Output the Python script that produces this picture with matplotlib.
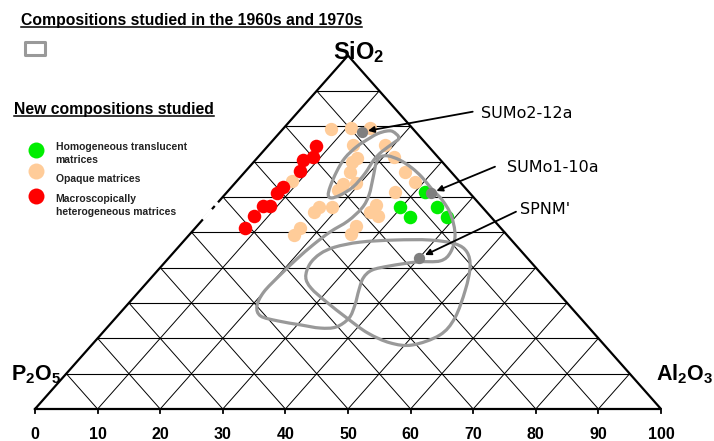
import numpy as np
import matplotlib
matplotlib.use('Agg')
import matplotlib.pyplot as plt
from matplotlib.path import Path
from matplotlib.patches import PathPatch, Rectangle
from matplotlib.lines import Line2D

plt.rcParams['mathtext.fontset'] = 'custom'
plt.rcParams['mathtext.rm'] = 'Liberation Sans:bold'
plt.rcParams['mathtext.default'] = 'rm'

# compositions (SiO2 %, Al2O3 %), P2O5 is the rest
red_sio2 = [74.3, 71.3, 70.3, 67.2, 62.9, 61.1, 57.3, 57.4, 54.5, 51.3]
red_al2o3 = [7.8, 8.8, 7.7, 8.8, 8.2, 8.1, 8.9, 7.8, 7.8, 7.9]

opaque_sio2 = [79.3, 79.4, 79.6, 74.7, 74.7, 71.1, 71.4, 69.9, 67.1, 67.1, 64.3, 63.6, 62.0,
               63.9, 61.5, 64.6, 57.2, 55.8, 57.2, 57.6, 55.6, 54.6, 51.1, 49.2, 51.8, 49.5]
opaque_al2o3 = [7.7, 10.7, 13.7, 13.5, 18.6, 15.9, 21.6, 15.7, 16.8, 25.6, 28.6, 17.4, 17.4,
                19.3, 26.8, 8.7, 16.8, 16.6, 18.8, 25.6, 25.7, 27.5, 16.8, 16.7, 25.4, 25.7]

green_sio2 = [61.4, 57.2, 54.4, 57.1, 54.3]
green_al2o3 = [31.6, 35.6, 38.6, 29.8, 32.8]

named = ['SUMo2-12a', 'SUMo1-10a', "SPNM'"]
named_sio2 = [78.4, 61.0, 42.8]
named_al2o3 = [13.0, 32.7, 40.0]

# outlines of the 1960s/1970s domains (SiO2, Al2O3)
zone1_sio2 = [76.7, 78.5, 78.6, 77.9, 76.7, 74.3, 71.0, 67.2, 62.9, 60.5, 59.7, 60.5, 62.8,
              66.6, 70.4, 72.8, 75.1]
zone1_al2o3 = [19.8, 17.9, 16.8, 15.8, 15.2, 14.3, 14.0, 14.6, 15.7, 16.6, 17.5, 18.5, 19.4,
               19.4, 18.9, 19.0, 19.6]

zone2_sio2 = [71.3, 71.6, 70.4, 68.2, 65.6, 62.2, 59.1, 54.9, 49.2, 44.4, 41.9, 41.6, 40.5,
              39.3, 37.1, 33.7, 29.4, 25.7, 23.2, 22.9, 23.8, 24.9, 26.3, 29.1, 33.1, 37.9,
              42.4, 46.4, 50.1, 53.2, 56.9, 60.5, 65.4, 69.6]
zone2_al2o3 = [19.5, 20.6, 23.1, 26.1, 29.0, 32.3, 35.5, 39.0, 42.5, 44.2, 43.8, 40.2, 36.5,
               34.2, 33.9, 34.9, 36.4, 37.3, 36.5, 34.1, 30.5, 26.4, 22.9, 20.9, 20.0, 20.2,
               20.6, 21.2, 22.1, 23.4, 23.8, 23.1, 21.3, 19.7]

zone3_sio2 = [37.3, 41.0, 43.9, 45.8, 47.2, 47.8, 47.8, 46.7, 44.4, 40.2, 33.7, 25.7, 20.9,
              18.1, 18.7, 21.5, 25.7, 30.3, 34.2]
zone3_al2o3 = [24.6, 23.4, 23.6, 25.0, 28.3, 33.6, 39.2, 43.8, 46.8, 49.4, 51.9, 54.2, 54.2,
               51.2, 47.4, 42.4, 37.0, 31.4, 27.0]

axis_ticks = list(range(0, 101, 10))


def to_xy(si, al):
    si = np.asarray(si, float)
    al = np.asarray(al, float)
    return al + si / 2, si


def smooth_closed(x, y):
    P = np.column_stack([x, y])
    n = len(P)
    verts = [P[0]]
    codes = [Path.MOVETO]
    for i in range(n):
        p0, p1, p2, p3 = P[i - 1], P[i], P[(i + 1) % n], P[(i + 2) % n]
        verts += [p1 + (p2 - p0) / 6, p2 - (p3 - p1) / 6, p2]
        codes += [Path.CURVE4] * 3
    return Path(verts, codes)


W, H = 714, 441
fig = plt.figure(figsize=(W / 100, H / 100), dpi=100)
ax = fig.add_axes([0, 0, 1, 1])
sx, sy = 6.26, 3.535
ax.set_xlim(-35 / sx, (W - 35) / sx)
ax.set_ylim(-(H - 409) / sy, 409 / sy)
ax.axis('off')


def pix(px, py):
    return (px - 35) / sx, (409 - py) / sy


# grid
for k in range(10, 100, 10):
    ax.plot([k / 2, 100 - k / 2], [k, k], color='black', lw=0.8, zorder=1)
    ax.plot([k, k + (100 - k) / 2], [0, 100 - k], color='black', lw=0.7, zorder=1)
    ax.plot([100 - k, (100 - k) / 2], [0, 100 - k], color='black', lw=0.7, zorder=1)
ax.plot([0, 100, 50, 0], [0, 0, 100, 0], color='black', lw=1.6, zorder=2,
        solid_joinstyle='miter')
for v in axis_ticks:
    ax.plot([v, v], [0, -1.2], color='black', lw=1.3, zorder=2)
    ax.text(v, -7.1, str(v), ha='center', va='center', fontsize=11.5,
            fontweight='bold', family='Liberation Sans')

# little breaks in the left edge
ax.plot([27.0, 28.1], [54.0, 56.15], color='white', lw=2.5, zorder=2.5)
ax.plot([28.9, 29.05], [57.8, 58.1], color='white', lw=2.5, zorder=2.5)

# corner labels
ax.text(*pix(333, 59), r'$\mathrm{SiO_2}$', fontsize=17, ha='left', va='baseline')
ax.text(*pix(11, 380), r'$\mathrm{P_2O_5}$', fontsize=15.5, ha='left', va='baseline')
ax.text(*pix(656, 380), r'$\mathrm{Al_2O_3}$', fontsize=15.5, ha='left', va='baseline')

# data
x, y = to_xy(opaque_sio2, opaque_al2o3)
ax.scatter(x, y, s=92, color='#FFCC99', lw=0, zorder=3)
x, y = to_xy(red_sio2, red_al2o3)
ax.scatter(x, y, s=95, color='#FF0000', lw=0, zorder=3)
x, y = to_xy(green_sio2, green_al2o3)
ax.scatter(x, y, s=95, color='#00EE00', lw=0, zorder=3)

for zs, za in [(zone1_sio2, zone1_al2o3), (zone2_sio2, zone2_al2o3), (zone3_sio2, zone3_al2o3)]:
    x, y = to_xy(zs, za)
    ax.add_patch(PathPatch(smooth_closed(x, y), facecolor='none', edgecolor='#999999',
                           lw=2.3, zorder=4))

nx, ny = to_xy(named_sio2, named_al2o3)
ax.scatter(nx, ny, s=66, color='#7F7F7F', lw=0, zorder=5)

arrow_from = [(472.7, 111.7), (495, 166.7), (516, 211.7)]
label_at = [(480.7, 113.3), (506.7, 167.3), (520, 209.3)]
for i, name in enumerate(named):
    ax.annotate('', xy=(nx[i], ny[i]), xytext=pix(*arrow_from[i]),
                arrowprops=dict(arrowstyle='-|>', color='black', lw=1.3,
                                mutation_scale=9, shrinkA=0, shrinkB=4.5), zorder=6)
    ax.text(*pix(*label_at[i]), name, ha='left', va='center', fontsize=11.5,
            family='DejaVu Sans')

# legend area
def fx(px):
    return px / W


def fy(py):
    return 1 - py / H


t1 = fig.text(fx(21), fy(25), 'Compositions studied in the 1960s and 1970s', fontsize=11.3,
              fontweight='bold', family='Liberation Sans', va='baseline')
t2 = fig.text(fx(14), fy(114), 'New compositions studied', fontsize=11.3,
              fontweight='bold', family='Liberation Sans', va='baseline')
fig.patches.append(Rectangle((fx(25), fy(55)), fx(20), 13 / H, transform=fig.transFigure,
                             facecolor='white', edgecolor='#999999', lw=2.2,
                             joinstyle='round', figure=fig))

leg_colors = ['#00EE00', '#FFCC99', '#FF0000']
leg_labels = ['Homogeneous translucent\nmatrices', 'Opaque matrices',
              'Macroscopically\nheterogeneous matrices']
leg_dot_y = [150, 171, 196.5]
leg_text_y = [153.5, 179.3, 205.7]
for c, lab, dy, ty in zip(leg_colors, leg_labels, leg_dot_y, leg_text_y):
    fig.add_artist(Line2D([fx(36)], [fy(dy)], marker='o', markersize=11.5, color=c,
                          markeredgewidth=0, transform=fig.transFigure))
    fig.text(fx(55.5), fy(ty), lab, fontsize=7.5, fontweight='bold', color='#222222',
             family='Liberation Sans', va='center', linespacing=1.3)

fig.canvas.draw()
r = fig.canvas.get_renderer()
for t, base in [(t1, 25), (t2, 114)]:
    bb = t.get_window_extent(r)
    fig.add_artist(Line2D([bb.x0 / W, bb.x1 / W], [fy(base + 2)] * 2, color='black',
                          lw=1.1, transform=fig.transFigure))

fig.savefig('out.png', dpi=100)
